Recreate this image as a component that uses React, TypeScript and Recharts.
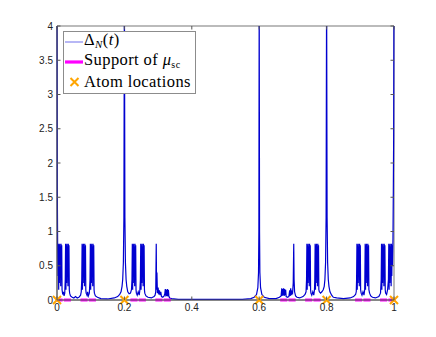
import React from "react"
import { ComposedChart, Line, Scatter, XAxis, YAxis, ReferenceArea, Legend } from "recharts"

// axis ticks
const xTicks = [0, 0.2, 0.4, 0.6, 0.8, 1]
const yTicks = [0, 0.5, 1, 1.5, 2, 2.5, 3, 3.5, 4]

// atoms of the measure
const atomLocations = [0, 0.2, 0.6, 0.8, 1]

// support of mu_sc: 16 intervals of the Cantor construction (level 4)
const supportIntervals: [number, number][] = [
  [0, 0.0123], [0.0247, 0.037], [0.0741, 0.0864], [0.0988, 0.1111],
  [0.2222, 0.2346], [0.2469, 0.2593], [0.2963, 0.3086], [0.321, 0.3333],
  [0.6667, 0.679], [0.6914, 0.7037], [0.7407, 0.7531], [0.7654, 0.7778],
  [0.8889, 0.9012], [0.9136, 0.9259], [0.963, 0.9753], [0.9877, 1],
]

// Delta_N(t) as [t, value]
const deltaLeft: [number, number][] = [
  [0, 4.6], [0.001, 1.6], [0.002, 0.7],
  [0.003, 0.35], [0.004, 0.82], [0.005, 0.15], [0.006, 0.8], [0.007, 0.25], [0.008, 0.82],
  [0.009, 0.5], [0.01, 0.78], [0.011, 0.2], [0.012, 0.82], [0.013, 0.35], [0.014, 0.8], [0.015, 0.15],
  [0.017, 0.08], [0.019, 0.12], [0.021, 0.06], [0.023, 0.1],
  [0.0245, 0.3], [0.0255, 0.82], [0.0265, 0.15], [0.0275, 0.8], [0.0285, 0.25], [0.0295, 0.82],
  [0.0305, 0.5], [0.0315, 0.78], [0.0325, 0.2], [0.0335, 0.82], [0.0345, 0.35], [0.0355, 0.8],
  [0.0365, 0.15], [0.0375, 0.1],
  [0.04, 0.06], [0.045, 0.04], [0.05, 0.03], [0.055, 0.05], [0.06, 0.03], [0.065, 0.04],
  [0.07, 0.07], [0.072, 0.12],
  [0.0735, 0.3], [0.0745, 0.82], [0.0755, 0.15], [0.0765, 0.8], [0.0775, 0.25], [0.0785, 0.82],
  [0.0795, 0.5], [0.0805, 0.78], [0.0815, 0.2], [0.0825, 0.82], [0.0835, 0.35], [0.0845, 0.8],
  [0.0855, 0.15], [0.0865, 0.1],
  [0.089, 0.07], [0.091, 0.12], [0.093, 0.06], [0.096, 0.1],
  [0.098, 0.3], [0.099, 0.82], [0.1, 0.15], [0.101, 0.8], [0.102, 0.25], [0.103, 0.82],
  [0.104, 0.5], [0.105, 0.78], [0.106, 0.2], [0.107, 0.82], [0.108, 0.35], [0.109, 0.8],
  [0.11, 0.15], [0.111, 0.1],
  [0.114, 0.06], [0.12, 0.04], [0.13, 0.02], [0.15, 0.015], [0.17, 0.03],
]

const deltaAround02: [number, number][] = [
  [0.18, 0.05], [0.186, 0.08], [0.19, 0.12], [0.193, 0.2], [0.195, 0.3], [0.197, 0.55],
  [0.1985, 1.2], [0.2, 4.6], [0.2015, 1.2], [0.203, 0.55], [0.205, 0.3], [0.207, 0.2],
  [0.21, 0.12], [0.214, 0.09], [0.218, 0.1], [0.221, 0.15],
  [0.2225, 0.3], [0.2235, 0.82], [0.2245, 0.15], [0.2255, 0.8], [0.2265, 0.25], [0.2275, 0.82],
  [0.2285, 0.5], [0.2295, 0.78], [0.2305, 0.2], [0.2315, 0.82], [0.2325, 0.35], [0.2335, 0.8],
  [0.2345, 0.15], [0.2355, 0.1],
  [0.238, 0.07], [0.241, 0.12], [0.244, 0.07], [0.246, 0.15],
  [0.2475, 0.3], [0.2485, 0.82], [0.2495, 0.15], [0.2505, 0.8], [0.2515, 0.25], [0.2525, 0.82],
  [0.2535, 0.5], [0.2545, 0.78], [0.2555, 0.2], [0.2565, 0.82], [0.2575, 0.35], [0.2585, 0.8],
  [0.2595, 0.15], [0.2605, 0.1],
  [0.264, 0.06], [0.27, 0.04], [0.28, 0.03], [0.288, 0.05], [0.291, 0.07], [0.293, 0.12],
  [0.2945, 0.82], [0.2955, 0.15], [0.2965, 0.4], [0.298, 0.1], [0.3, 0.18], [0.302, 0.08],
  [0.304, 0.14], [0.306, 0.07], [0.308, 0.12], [0.31, 0.05], [0.314, 0.04], [0.318, 0.06],
  [0.32, 0.1], [0.3215, 0.16], [0.323, 0.05], [0.3245, 0.15], [0.326, 0.06], [0.3275, 0.16],
  [0.329, 0.05], [0.3305, 0.15], [0.332, 0.06], [0.334, 0.03], [0.34, 0.02],
]

const deltaMiddle: [number, number][] = [
  [0.36, 0.01], [0.4, 0.01], [0.45, 0.01], [0.5, 0.01], [0.55, 0.01], [0.575, 0.02],
  [0.585, 0.04], [0.592, 0.08], [0.596, 0.18], [0.598, 0.4], [0.599, 1.0], [0.6, 4.6],
  [0.601, 1.0], [0.602, 0.4], [0.604, 0.18], [0.608, 0.08], [0.615, 0.04], [0.63, 0.02],
  [0.65, 0.02], [0.66, 0.04], [0.665, 0.06], [0.667, 0.17], [0.668, 0.06], [0.6695, 0.16],
  [0.671, 0.07], [0.6725, 0.17], [0.674, 0.06], [0.6755, 0.16], [0.677, 0.07], [0.6785, 0.15],
  [0.68, 0.05], [0.684, 0.04], [0.688, 0.05], [0.6905, 0.14], [0.692, 0.06], [0.6935, 0.17],
  [0.695, 0.07], [0.697, 0.12], [0.699, 0.1], [0.701, 0.25], [0.7025, 0.82], [0.7035, 0.3],
  [0.705, 0.12], [0.708, 0.06], [0.712, 0.04], [0.72, 0.03], [0.73, 0.05], [0.736, 0.08],
]

const deltaRight: [number, number][] = [
  [0.739, 0.12],
  [0.7405, 0.3], [0.7415, 0.82], [0.7425, 0.15], [0.7435, 0.8], [0.7445, 0.25], [0.7455, 0.82],
  [0.7465, 0.5], [0.7475, 0.78], [0.7485, 0.2], [0.7495, 0.82], [0.7505, 0.35], [0.7515, 0.8],
  [0.7525, 0.15], [0.7535, 0.1],
  [0.756, 0.07], [0.759, 0.12], [0.762, 0.07], [0.764, 0.15],
  [0.765, 0.3], [0.766, 0.82], [0.767, 0.15], [0.768, 0.8], [0.769, 0.25], [0.77, 0.82],
  [0.771, 0.5], [0.772, 0.78], [0.773, 0.2], [0.774, 0.82], [0.775, 0.35], [0.776, 0.8],
  [0.777, 0.15], [0.7785, 0.12],
  [0.782, 0.1], [0.786, 0.12], [0.79, 0.15], [0.793, 0.2], [0.795, 0.3], [0.797, 0.55],
  [0.7985, 1.2], [0.8, 4.6], [0.8015, 1.2], [0.803, 0.55], [0.805, 0.3], [0.807, 0.2],
  [0.81, 0.12], [0.815, 0.07], [0.82, 0.04], [0.83, 0.03], [0.85, 0.02], [0.87, 0.03],
  [0.88, 0.05], [0.886, 0.08], [0.888, 0.12],
  [0.889, 0.3], [0.89, 0.82], [0.891, 0.15], [0.892, 0.8], [0.893, 0.25], [0.894, 0.82],
  [0.895, 0.5], [0.896, 0.78], [0.897, 0.2], [0.898, 0.82], [0.899, 0.35], [0.9, 0.8],
  [0.901, 0.15], [0.9025, 0.1],
  [0.905, 0.07], [0.908, 0.12], [0.911, 0.07], [0.913, 0.15],
  [0.9135, 0.3], [0.9145, 0.82], [0.9155, 0.15], [0.9165, 0.8], [0.9175, 0.25], [0.9185, 0.82],
  [0.9195, 0.5], [0.9205, 0.78], [0.9215, 0.2], [0.9225, 0.82], [0.9235, 0.35], [0.9245, 0.8],
  [0.9255, 0.15], [0.9275, 0.1],
  [0.931, 0.06], [0.936, 0.04], [0.945, 0.03], [0.955, 0.05], [0.96, 0.1],
  [0.962, 0.3], [0.963, 0.82], [0.964, 0.15], [0.965, 0.8], [0.966, 0.25], [0.967, 0.82],
  [0.968, 0.5], [0.969, 0.78], [0.97, 0.2], [0.971, 0.82], [0.972, 0.35], [0.973, 0.8],
  [0.974, 0.15], [0.975, 0.1],
  [0.978, 0.08], [0.981, 0.15],
  [0.9835, 0.3], [0.9845, 0.82], [0.9855, 0.15], [0.9865, 0.8], [0.9875, 0.25], [0.9885, 0.82],
  [0.9895, 0.5], [0.9905, 0.78], [0.9915, 0.2], [0.9925, 0.82], [0.9935, 0.35], [0.9945, 0.8],
  [0.9955, 0.5], [0.997, 0.9], [0.998, 1.6], [0.999, 2.4], [1, 4.6],
]

const deltaData = [...deltaLeft, ...deltaAround02, ...deltaMiddle, ...deltaRight].map(([t, v]) => ({ t, v }))

// a null after each interval so the thick line breaks between them
const supportData = supportIntervals.flatMap(([a, b]) => [
  { t: a, v: 0 }, { t: b, v: 0 }, { t: b, v: null },
])
const atomData = atomLocations.map((t) => ({ t, v: 0 }))

const W = 436
const H = 337
const PLOT_TOP = 26
const PLOT_BOTTOM = 300
const PLOT_LEFT = 57
const PLOT_RIGHT = 394
const TICK = 3.5
const AXIS_COLOR = "#555"
const tickFont = { fontFamily: '"Liberation Sans", Arial, sans-serif', fontSize: 10, fill: "#222" }
const serif = "'Liberation Serif', 'Times New Roman', Times, serif"

const XTick = ({ x, payload }: any) => (
  <g>
    <line x1={x} x2={x} y1={PLOT_BOTTOM} y2={PLOT_BOTTOM - TICK} stroke={AXIS_COLOR} />
    <line x1={x} x2={x} y1={PLOT_TOP} y2={PLOT_TOP + TICK} stroke={AXIS_COLOR} />
    <text x={x} y={PLOT_BOTTOM + 11} textAnchor="middle" {...tickFont}>{payload.value}</text>
  </g>
)

const YTick = ({ y, payload }: any) => (
  <g>
    <line x1={PLOT_LEFT} x2={PLOT_LEFT + TICK} y1={y} y2={y} stroke={AXIS_COLOR} />
    <line x1={PLOT_RIGHT} x2={PLOT_RIGHT - TICK} y1={y} y2={y} stroke={AXIS_COLOR} />
    <text x={PLOT_LEFT - 4} y={y + 3.5} textAnchor="end" {...tickFont}>{payload.value}</text>
  </g>
)

const AtomMark = ({ cx, cy }: any) => (
  <path
    d={`M${cx - 4},${cy - 4}L${cx + 4},${cy + 4}M${cx - 4},${cy + 4}L${cx + 4},${cy - 4}`}
    stroke="#ffa500" strokeWidth={2} fill="none"
  />
)

const sub = { fontSize: 11, verticalAlign: "-3px" }
const row = { display: "flex", alignItems: "center", height: 20 }

const LegendBox = () => (
  <div style={{
    width: 131, height: 61, border: "1px solid #8c8c8c", background: "#fff",
    fontFamily: serif, fontSize: 16.5, letterSpacing: 0.4, color: "#000", lineHeight: "20px",
  }}>
    <div style={row}>
      <svg width={20} height={20}><line x1={1} x2={19} y1={10} y2={10} stroke="#9f9ff2" strokeWidth={1.5} /></svg>
      <span style={{ fontFamily: serif }}>Δ<span style={{ ...sub, fontStyle: "italic" }}>N</span>(<i>t</i>)</span>
    </div>
    <div style={row}>
      <svg width={20} height={20}><line x1={1} x2={19} y1={10} y2={10} stroke="#ff00ff" strokeWidth={3.2} /></svg>
      <span style={{ fontFamily: serif }}>Support of <i>μ</i><span style={{ ...sub, fontSize: 10 }}>sc</span></span>
    </div>
    <div style={row}>
      <svg width={20} height={20}>
        <path d="M6.5,6L14.5,14M6.5,14L14.5,6" stroke="#ffa500" strokeWidth={2} />
      </svg>
      <span style={{ fontFamily: serif }}>Atom locations</span>
    </div>
  </div>
)

export default function App() {
  return (
    <div style={{ position: "absolute", left: 0, top: 0, width: W, height: H, background: "#fff" }}>
      <ComposedChart width={W} height={H} margin={{ top: PLOT_TOP, right: W - PLOT_RIGHT, bottom: 17, left: 0 }}>
        <XAxis
          type="number" dataKey="t" domain={[0, 1]} ticks={xTicks} height={20}
          tickLine={false} tickSize={0} tick={<XTick />} axisLine={{ stroke: AXIS_COLOR }}
          allowDuplicatedCategory={false}
        />
        <YAxis
          type="number" domain={[0, 4]} ticks={yTicks} width={PLOT_LEFT} allowDataOverflow
          tickLine={false} tickSize={0} tick={<YTick />} axisLine={{ stroke: AXIS_COLOR }}
        />
        {/* unclipped axis for the marks that sit on y = 0 */}
        <YAxis yAxisId="base" type="number" domain={[0, 4]} hide />
        <ReferenceArea x1={0} x2={1} y1={0} y2={4} fill="none" stroke={AXIS_COLOR} strokeOpacity={0.8} />
        <Line
          data={deltaData} dataKey="v" type="linear" stroke="#0000d0" strokeWidth={1.2}
          dot={false} isAnimationActive={false} name="delta"
        />
        <Line
          yAxisId="base" data={supportData} dataKey="v" type="linear" stroke="#ff00ff" strokeWidth={3}
          strokeLinecap="square" dot={false} connectNulls={false} isAnimationActive={false} name="support"
        />
        <Scatter
          yAxisId="base" data={atomData} dataKey="v" shape={<AtomMark />}
          isAnimationActive={false} name="atoms"
        />
        <Legend
          content={<LegendBox />} layout="vertical" align="center" verticalAlign="middle"
          wrapperStyle={{ left: 63, top: 31, width: 133, height: 63 }}
        />
      </ComposedChart>
    </div>
  )
}
